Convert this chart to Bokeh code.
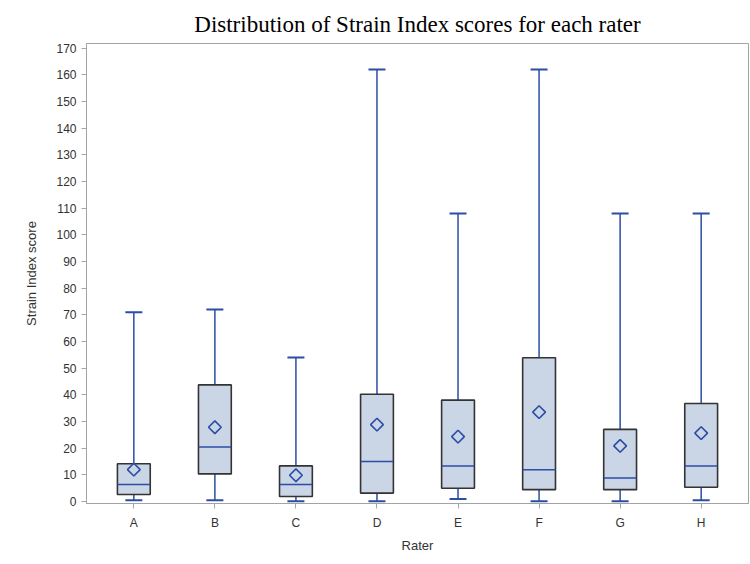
from bokeh.plotting import figure
from bokeh.models import ColumnDataSource, FactorRange, Range1d, FixedTicker
from bokeh.transform import dodge
from bokeh.embed import file_html
from bokeh.resources import INLINE
import numpy as np

raters = ["A", "B", "C", "D", "E", "F", "G", "H"]
whisker_low = [0.4, 0.4, 0.0, 0.0, 0.9, 0.0, 0.0, 0.4]
q1 = [2.6, 10.3, 1.8, 3.1, 4.9, 4.4, 4.4, 5.3]
median = [6.3, 20.4, 6.3, 15.0, 13.3, 11.9, 8.8, 13.3]
q3 = [14.1, 43.7, 13.3, 40.2, 38.0, 53.9, 27.0, 36.7]
whisker_high = [71, 72, 54, 162, 108, 162, 108, 108]
mean = [11.9, 27.8, 9.8, 28.8, 24.3, 33.5, 20.8, 25.6]
y_ticks = list(range(0, 171, 10))

src = ColumnDataSource(dict(rater=raters, lo=whisker_low, q1=q1, med=median,
                            q3=q3, hi=whisker_high, mean=mean))

BLUE = "#2B4DA6"
FILL = "#CAD5E5"
GRAY = "#A3A3A3"
TXT = "#333333"

p = figure(width=750, height=564, output_backend="svg", toolbar_location=None,
           x_range=FactorRange(factors=raters, range_padding=0.084, range_padding_units="absolute"),
           y_range=Range1d(-0.8, 171.8),
           title="Distribution of Strain Index scores for each rater",
           min_border_left=86, min_border_right=2, min_border_top=43, min_border_bottom=61)

p.title.align = "center"
p.title.text_font = "Liberation Serif"
p.title.text_font_size = "23px"
p.title.text_font_style = "normal"
p.title.text_color = "#000000"
p.title.standoff = 13

# whiskers
p.segment(x0="rater", y0="q3", x1="rater", y1="hi", source=src, line_color=BLUE, line_width=1.5)
p.segment(x0="rater", y0="lo", x1="rater", y1="q1", source=src, line_color=BLUE, line_width=1.5)
p.scatter(x="rater", y="hi", source=src, marker="dash", size=17, line_color=BLUE, line_width=2)
p.scatter(x="rater", y="lo", source=src, marker="dash", size=17, line_color=BLUE, line_width=2)

# boxes
p.vbar(x="rater", top="q3", bottom="q1", width=0.405, source=src,
       fill_color=FILL, line_color="#333333", line_width=1.6)

# medians
p.segment(x0=dodge("rater", -0.2, range=p.x_range), y0="med",
          x1=dodge("rater", 0.2, range=p.x_range), y1="med",
          source=src, line_color=BLUE, line_width=1.5)

# means
p.scatter(x="rater", y="mean", source=src, marker="square", angle=np.pi / 4, size=9,
          fill_color=None, line_color=BLUE, line_width=1.6)

p.xgrid.visible = False
p.ygrid.visible = False
p.outline_line_color = GRAY
p.outline_line_width = 1

p.yaxis.ticker = FixedTicker(ticks=y_ticks)
p.yaxis.minor_tick_line_color = None
p.xaxis.minor_tick_line_color = None
for ax in (p.xaxis[0], p.yaxis[0]):
    ax.axis_line_color = GRAY
    ax.major_tick_line_color = GRAY
    ax.major_tick_out = 5
    ax.major_tick_in = 0
    ax.major_label_text_font = "Liberation Sans"
    ax.major_label_text_font_size = "12px"
    ax.major_label_text_color = TXT
    ax.axis_label_text_font = "Liberation Sans"
    ax.axis_label_text_font_size = "13px"
    ax.axis_label_text_font_style = "normal"
    ax.axis_label_text_color = TXT

p.yaxis.axis_label = "Strain Index score"
p.xaxis.axis_label = "Rater"
p.yaxis.major_label_standoff = 5
p.xaxis.major_label_standoff = 7
p.yaxis.axis_label_standoff = 14
p.xaxis.axis_label_standoff = 5

open("out.html", "w").write(file_html(p, INLINE))
